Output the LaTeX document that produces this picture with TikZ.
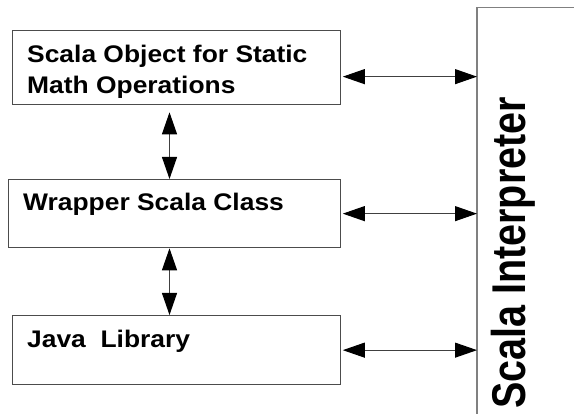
\documentclass[tikz,border=0pt]{standalone}
\usepackage{fontspec}
\setmainfont{Liberation Sans}
\usetikzlibrary{arrows.meta,calc}

\tikzset{
  layer/.style={draw=black!70, line width=1.3pt, fill=white, inner sep=0pt, anchor=north west},
  label text/.style={inner sep=0pt, anchor=base west,
    font=\fontsize{24}{28}\selectfont\bfseries},
  head/.tip={Triangle[length=22pt,width=15pt,color=black,fill=black]},
  link/.style={draw=black!75, line width=1pt, head-head},
}

\begin{document}
\begin{tikzpicture}[x=1pt,y=-1pt]
\useasboundingbox (0,0) rectangle (574,414);

% the three layers on the left
\node[layer, minimum width=328pt, minimum height=74pt] (obj) at (12,30) {};
\node[layer, minimum width=332pt, minimum height=68pt] (wrap) at (8,179) {};
\node[layer, minimum width=328pt, minimum height=69pt] (java) at (12,315) {};

\node[label text] (objA) at (27,63) {\scalebox{1.1}[1]{Scala Object for Static}};
\node[label text] (objB) at (27,94) {\scalebox{1.1}[1]{Math Operations}};
\node[label text] (wrapT) at (23,210.5) {\scalebox{1.1}[1]{Wrapper Scala Class}};
\node[label text] (javaT) at (27,347.5) {\scalebox{1.1}[1]{Java\ \ Library}};

% interpreter column, open towards the right and the bottom
\node[inner sep=0pt, anchor=north west, minimum width=98pt, minimum height=408pt] (interp) at (477,7.5) {};
\draw[draw=black!50, line width=1.6pt] (interp.north east) -- (interp.north west) -- (interp.south west);
\node[inner sep=0pt, anchor=base west, rotate=90,
      font=\fontsize{39.5}{46}\selectfont\bfseries] (interpT) at (525.5,409)
      {\scalebox{1}[1.2]{Scala Interpreter}};

% links between the layers
\coordinate (axis) at (169.5,0);
\draw[link, shorten <=7pt] (obj.south -| axis) -- (wrap.north -| axis);
\draw[link] (wrap.south -| axis) -- (java.north -| axis);

% links to the interpreter
\coordinate (objOut) at ($(obj.east)+(1.5,9)$);
\coordinate (wrapOut) at ($(wrap.east)+(1.5,0)$);
\coordinate (javaOut) at ($(java.east)+(1.5,0)$);
\draw[link] (objOut) -- (objOut -| interp.west);
\draw[link] (wrapOut) -- (wrapOut -| interp.west);
\draw[link] (javaOut) -- (javaOut -| interp.west);
\end{tikzpicture}
\end{document}
